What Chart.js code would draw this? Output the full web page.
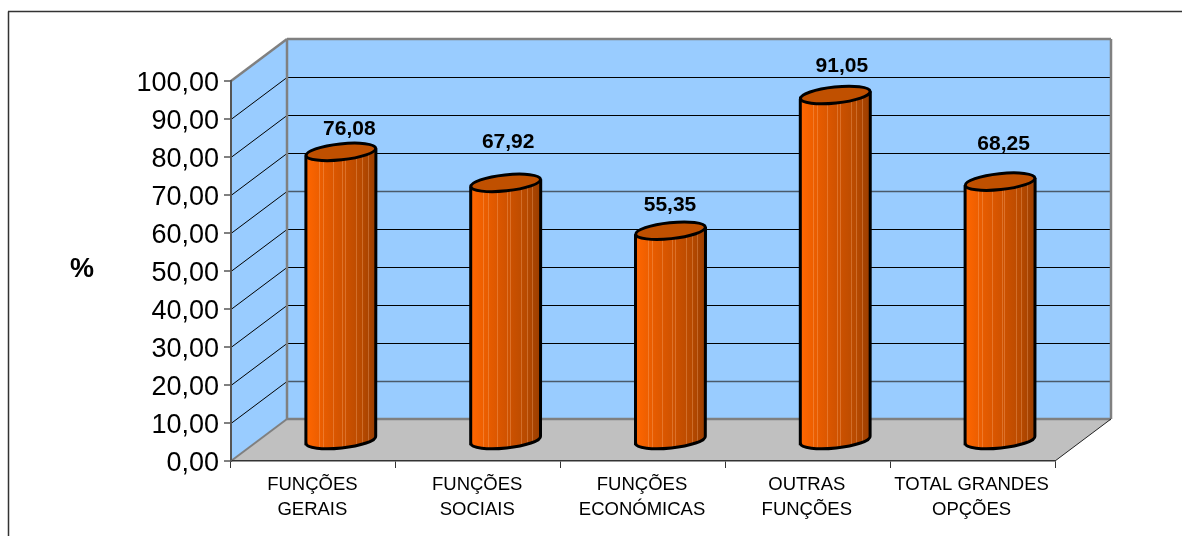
<!DOCTYPE html>
<html>
<head>
<meta charset="utf-8">
<style>
  html, body { margin: 0; padding: 0; background: #fff; }
  canvas { display: block; }
</style>
<script src="https://cdn.jsdelivr.net/npm/chart.js@4"></script>
</head>
<body>
<canvas id="chart" width="1182" height="536"></canvas>
<script>
const categories = [
    ['FUNÇÕES', 'GERAIS'],
    ['FUNÇÕES', 'SOCIAIS'],
    ['FUNÇÕES', 'ECONÓMICAS'],
    ['OUTRAS', 'FUNÇÕES'],
    ['TOTAL GRANDES', 'OPÇÕES']
];
const values = [76.08, 67.92, 55.35, 91.05, 68.25];
const yTicks = [0, 10, 20, 30, 40, 50, 60, 70, 80, 90, 100];

// hand placed labels, as in the original
const labelLift = [24, 42, 26, 30, 38];
const labelShift = [8, 2, -1, 6, 3];
// these two back wall lines come out grey and thick in the original
const softGrid = [10, 60];

// 3d depth of the box
const depthX = 56;
const depthY = -42;
const fontName = '"Liberation Sans", Arial, sans-serif';
const wallGrey = '#808080';

function formatValue(v) {
    return v.toFixed(2).replace('.', ',');
}

function line(ctx, x1, y1, x2, y2, color, width) {
    ctx.strokeStyle = color;
    ctx.lineWidth = width;
    ctx.beginPath();
    ctx.moveTo(x1, y1);
    ctx.lineTo(x2, y2);
    ctx.stroke();
}

function polygon(ctx, points, color) {
    ctx.fillStyle = color;
    ctx.beginPath();
    points.forEach((p, i) => i ? ctx.lineTo(p[0], p[1]) : ctx.moveTo(p[0], p[1]));
    ctx.closePath();
    ctx.fill();
}

// walls, floor and the frame behind everything
const boxPlugin = {
    id: 'box',
    beforeDraw(chart) {
        const ctx = chart.ctx;
        const { left, right, top, bottom } = chart.chartArea;
        ctx.save();

        line(ctx, 8.5, 536, 8.5, 11.5, '#333', 1.5);
        line(ctx, 8, 11.5, 1182, 11.5, '#333', 1.5);

        polygon(ctx, [[left + depthX, top + depthY], [right + depthX, top + depthY], [right + depthX, bottom + depthY], [left + depthX, bottom + depthY]], '#99CCFF');
        polygon(ctx, [[left, top], [left + depthX, top + depthY], [left + depthX, bottom + depthY], [left, bottom]], '#99CCFF');
        polygon(ctx, [[left, bottom], [right, bottom], [right + depthX, bottom + depthY], [left + depthX, bottom + depthY]], '#C0C0C0');

        const yScale = chart.scales.y;
        yTicks.slice(1, -1).forEach(v => {
            const y = Math.round(yScale.getPixelForValue(v)) + 0.5;
            line(ctx, left, y, left + depthX, y + depthY, '#000', 1);
            if (softGrid.includes(v)) {
                line(ctx, left + depthX, y + depthY, right + depthX, y + depthY, '#4a5a6a', 1.6);
            } else {
                line(ctx, left + depthX, y + depthY, right + depthX, y + depthY, '#000', 1);
            }
        });

        line(ctx, left, top, left + depthX, top + depthY, wallGrey, 2.5);
        line(ctx, left + depthX, top + depthY, right + depthX, top + depthY, wallGrey, 2.5);
        line(ctx, right + depthX, top + depthY, right + depthX, bottom + depthY, wallGrey, 2.5);
        line(ctx, left + depthX, top + depthY, left + depthX, bottom + depthY, wallGrey, 2.5);
        line(ctx, left + depthX, bottom + depthY, right + depthX, bottom + depthY, wallGrey, 2.5);
        line(ctx, left, bottom, left + depthX, bottom + depthY, wallGrey, 2);
        line(ctx, right, bottom, right + depthX, bottom + depthY, '#222', 1);
        ctx.restore();
    }
};

function drawCylinder(ctx, bar) {
    const cx = bar.x + depthX / 2 - 0.5;
    const rx = bar.width / 2;
    const ry = 8;
    const tilt = -6 * Math.PI / 180;
    const topY = bar.y + depthY / 2 + 1;
    const baseY = bar.base + depthY / 2 + 1;
    const rise = rx * Math.sin(tilt);

    const grad = ctx.createLinearGradient(cx - rx, 0, cx + rx, 0);
    grad.addColorStop(0, '#FF6600');
    grad.addColorStop(0.2, '#EC5E00');
    grad.addColorStop(0.5, '#D25300');
    grad.addColorStop(0.8, '#B84A00');
    grad.addColorStop(1, '#993D00');

    ctx.beginPath();
    ctx.moveTo(cx - rx, topY - rise);
    ctx.lineTo(cx - rx, baseY - rise);
    ctx.ellipse(cx, baseY, rx, ry, tilt, Math.PI, 0, true);
    ctx.lineTo(cx + rx, topY + rise);
    ctx.closePath();
    ctx.fillStyle = grad;
    ctx.fill();

    // faint vertical streaks on the surface
    ctx.save();
    ctx.clip();
    [0.18, 0.24, 0.38, 0.52, 0.56, 0.72, 0.8, 0.88].forEach(f => {
        const sx = Math.round(cx - rx + f * bar.width) + 0.5;
        line(ctx, sx, topY - 20, sx, baseY + 20, 'rgba(255,190,140,0.3)', 1);
    });
    ctx.restore();

    ctx.strokeStyle = '#000';
    ctx.lineWidth = 3;
    ctx.beginPath();
    ctx.moveTo(cx - rx, topY - rise);
    ctx.lineTo(cx - rx, baseY - rise);
    ctx.ellipse(cx, baseY, rx, ry, tilt, Math.PI, 0, true);
    ctx.lineTo(cx + rx, topY + rise);
    ctx.stroke();

    ctx.beginPath();
    ctx.ellipse(cx, topY, rx, ry, tilt, 0, Math.PI * 2);
    ctx.fillStyle = '#C05000';
    ctx.fill();
    ctx.stroke();
}

// the bars keep their place from the scales, only their look is 3d
const cylinderPlugin = {
    id: 'cylinders',
    beforeDatasetDraw(chart, args) {
        const ctx = chart.ctx;
        ctx.save();
        args.meta.data.forEach(bar => drawCylinder(ctx, bar));
        ctx.restore();
        return false;
    },
    afterDatasetsDraw(chart) {
        const ctx = chart.ctx;
        const bars = chart.getDatasetMeta(0).data;
        ctx.save();
        ctx.fillStyle = '#000';
        ctx.textAlign = 'center';
        ctx.textBaseline = 'middle';
        ctx.font = 'bold 21px ' + fontName;
        bars.forEach((bar, i) => {
            ctx.fillText(formatValue(values[i]), bar.x + depthX / 2 + labelShift[i], bar.y + depthY / 2 - labelLift[i] + 2);
        });
        ctx.font = 'bold 27px ' + fontName;
        ctx.fillText('%', 82, 270);
        ctx.restore();
    }
};

new Chart(document.getElementById('chart'), {
    type: 'bar',
    data: {
        labels: categories,
        datasets: [{
            data: values,
            backgroundColor: '#FF6600',
            barThickness: 70
        }]
    },
    options: {
        responsive: false,
        animation: false,
        layout: { padding: { left: 0, top: 81, right: 127, bottom: 0 } },
        plugins: { legend: { display: false }, tooltip: { enabled: false } },
        scales: {
            x: {
                afterFit: s => { s.height = 75; },
                grid: { drawOnChartArea: false, color: '#333', tickLength: 7 },
                border: { color: '#333', width: 1.5 },
                ticks: {
                    autoSkip: false,
                    maxRotation: 0,
                    padding: 4,
                    labelOffset: -1,
                    color: '#000',
                    font: { family: fontName, size: 18.5, lineHeight: 1.35 }
                }
            },
            y: {
                min: 0,
                max: 100,
                afterFit: s => { s.width = 231; },
                grid: { drawOnChartArea: false, color: wallGrey, lineWidth: 2, tickLength: 7 },
                border: { color: '#555', width: 2 },
                ticks: {
                    stepSize: 10,
                    padding: 5,
                    labelOffset: 2.5,
                    color: '#000',
                    font: { family: fontName, size: 27 },
                    callback: v => formatValue(v)
                }
            }
        }
    },
    plugins: [boxPlugin, cylinderPlugin]
});
</script>
</body>
</html>
